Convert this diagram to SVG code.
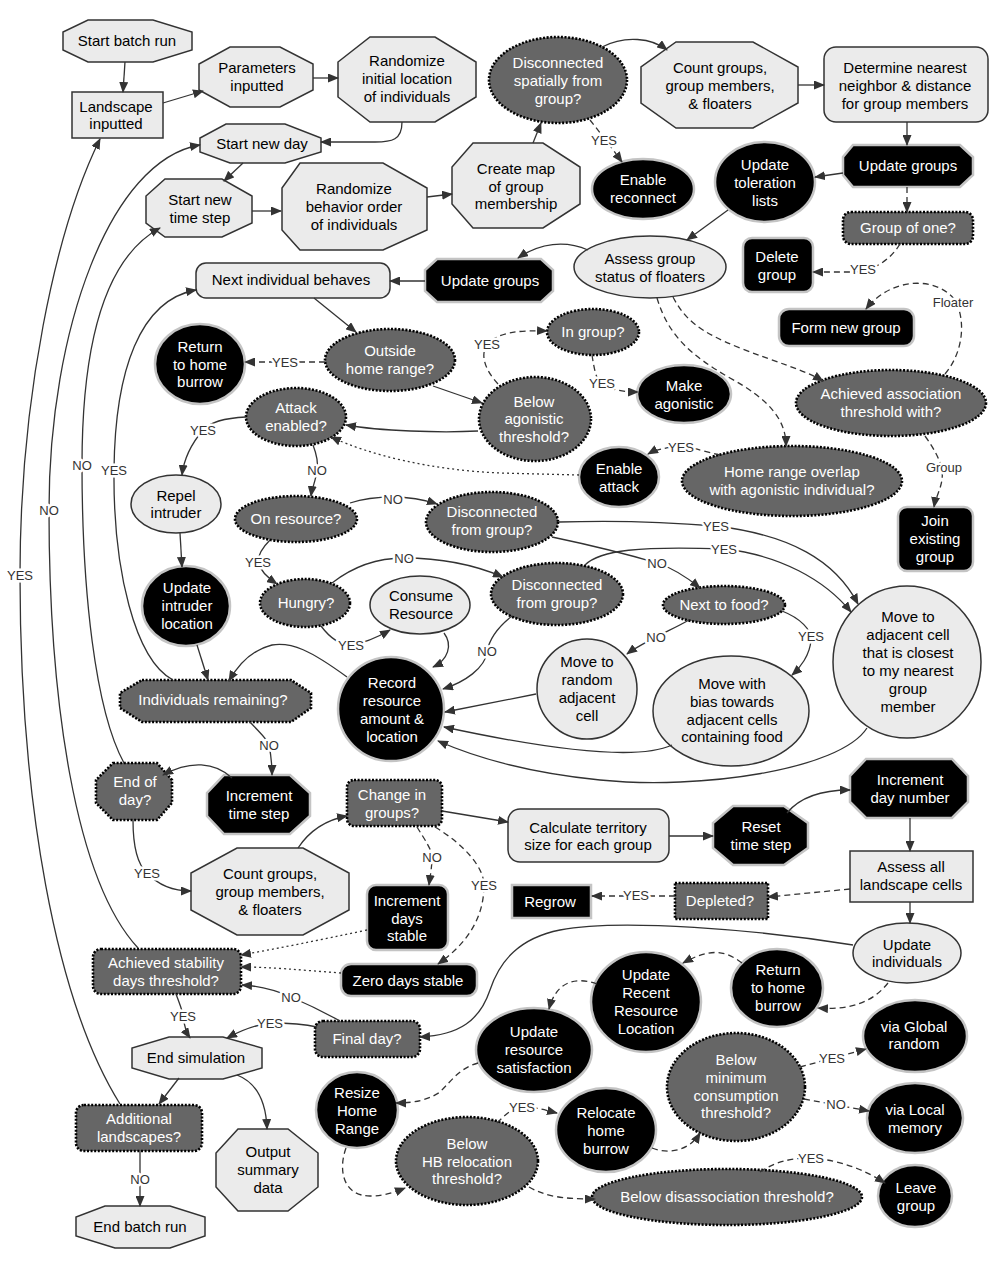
<svg xmlns="http://www.w3.org/2000/svg" width="1000" height="1269" viewBox="0 0 1000 1269">
<style>
.lt{fill:#ebebeb;stroke:#333;stroke-width:1.5}
.bk{fill:#000;stroke:#c4c4c4;stroke-width:2.5}
.dk{fill:#666;stroke:#000;stroke-width:2.6;stroke-dasharray:2 1.6}
text{font-family:"Liberation Sans",Arial,sans-serif;font-size:15px;text-anchor:middle}
.tb{fill:#000}
.tw{fill:#fff}
.c{fill:none;stroke:#333;stroke-width:1.3}
.d{stroke-dasharray:6 4}
.o{stroke-dasharray:2 3}
.l{font-size:13px;fill:#333;stroke:#fff;stroke-width:5;paint-order:stroke;stroke-linejoin:round}
</style>
<defs>
<marker id="a" markerUnits="userSpaceOnUse" markerWidth="11" markerHeight="9" refX="10" refY="4.5" orient="auto">
<path d="M0,0 L11,4.5 L0,9 z" fill="#333"/>
</marker>
</defs>
<rect width="1000" height="1269" fill="#fff"/>

<g id="nodes">
<g id="n-start-batch"><polygon class="lt" points="88,20 153,20 192,32 192,50 153,62 88,62 63,50 63,32"/><text class="tb" x="127" y="46">Start batch run</text></g>
<g id="n-landscape"><rect class="lt" x="72" y="92" width="91" height="46"/><text class="tb" x="116" y="112">Landscape</text><text class="tb" x="116" y="129">inputted</text></g>
<g id="n-params"><polygon class="lt" points="230,47 280,47 313,64 313,90 280,107 230,107 199,90 199,64"/><text class="tb" x="257" y="73">Parameters</text><text class="tb" x="257" y="91">inputted</text></g>
<g id="n-rand-init"><polygon class="lt" points="370,37 435,37 476,62 476,97 435,122 370,122 338,97 338,62"/><text class="tb" x="407" y="66">Randomize</text><text class="tb" x="407" y="84">initial location</text><text class="tb" x="407" y="102">of individuals</text></g>
<g id="n-disc-spatial"><ellipse class="dk" cx="558" cy="80" rx="69" ry="43"/><text class="tw" x="558" y="68">Disconnected</text><text class="tw" x="558" y="86">spatially from</text><text class="tw" x="558" y="104">group?</text></g>
<g id="n-count1"><polygon class="lt" points="676,42 753,42 798,67 798,103 753,128 676,128 641,103 641,67"/><text class="tb" x="720" y="73">Count groups,</text><text class="tb" x="720" y="91">group members,</text><text class="tb" x="720" y="109">&amp; floaters</text></g>
<g id="n-determine"><rect class="lt" x="824" y="47" width="164" height="75" rx="12"/><text class="tb" x="905" y="73">Determine nearest</text><text class="tb" x="905" y="91">neighbor &amp; distance</text><text class="tb" x="905" y="109">for group members</text></g>
<g id="n-start-day"><polygon class="lt" points="226,124 285,124 321,138 321,152 285,163 230,163 200,152 200,138"/><text class="tb" x="262" y="149">Start new day</text></g>
<g id="n-start-step"><polygon class="lt" points="165,179 222,179 252,196 252,223 222,237 165,237 146,223 146,196"/><text class="tb" x="200" y="205">Start new</text><text class="tb" x="200" y="223">time step</text></g>
<g id="n-rand-behav"><polygon class="lt" points="300,163 383,163 427,188 427,230 383,250 300,250 282,230 282,188"/><text class="tb" x="354" y="194">Randomize</text><text class="tb" x="354" y="212">behavior order</text><text class="tb" x="354" y="230">of individuals</text></g>
<g id="n-create-map"><polygon class="lt" points="473,143 543,143 580,167 580,204 543,228 473,228 452,204 452,167"/><text class="tb" x="516" y="174">Create map</text><text class="tb" x="516" y="192">of group</text><text class="tb" x="516" y="209">membership</text></g>
<g id="n-enable-reconnect"><ellipse class="bk" cx="643" cy="189" rx="51" ry="30"/><text class="tw" x="643" y="185">Enable</text><text class="tw" x="643" y="203">reconnect</text></g>
<g id="n-toleration"><ellipse class="bk" cx="765" cy="182" rx="50" ry="40"/><text class="tw" x="765" y="170">Update</text><text class="tw" x="765" y="188">toleration</text><text class="tw" x="765" y="206">lists</text></g>
<g id="n-update-groups-r"><polygon class="bk" points="853,145 960,145 973,157 973,175 960,187 853,187 843,175 843,157"/><text class="tw" x="908" y="171">Update groups</text></g>
<g id="n-group-of-one"><rect class="dk" x="843" y="212" width="130" height="32" rx="8"/><text class="tw" x="908" y="233">Group of one?</text></g>
<g id="n-delete-group"><rect class="bk" x="743" y="238" width="70" height="54" rx="9"/><text class="tw" x="777" y="262">Delete</text><text class="tw" x="777" y="280">group</text></g>
<g id="n-assess-floaters"><ellipse class="lt" cx="650" cy="267" rx="76" ry="31"/><text class="tb" x="650" y="264">Assess group</text><text class="tb" x="650" y="282">status of floaters</text></g>
<g id="n-update-groups-m"><polygon class="bk" points="437,259 541,259 553,270 553,291 541,302 437,302 425,291 425,270"/><text class="tw" x="490" y="286">Update groups</text></g>
<g id="n-next-indiv"><rect class="lt" x="196" y="263" width="194" height="35" rx="10"/><text class="tb" x="291" y="285">Next individual behaves</text></g>
<g id="n-form-new"><rect class="bk" x="779" y="309" width="135" height="37" rx="10"/><text class="tw" x="846" y="333">Form new group</text></g>
<g id="n-return-home1"><ellipse class="bk" cx="200" cy="364" rx="45" ry="40"/><text class="tw" x="200" y="352">Return</text><text class="tw" x="200" y="370">to home</text><text class="tw" x="200" y="387">burrow</text></g>
<g id="n-outside-range"><ellipse class="dk" cx="390" cy="360" rx="65" ry="31"/><text class="tw" x="390" y="356">Outside</text><text class="tw" x="390" y="374">home range?</text></g>
<g id="n-in-group"><ellipse class="dk" cx="593" cy="332" rx="46" ry="23"/><text class="tw" x="593" y="337">In group?</text></g>
<g id="n-make-agon"><ellipse class="bk" cx="684" cy="394" rx="47" ry="29"/><text class="tw" x="684" y="391">Make</text><text class="tw" x="684" y="409">agonistic</text></g>
<g id="n-below-agon"><ellipse class="dk" cx="535" cy="419" rx="56" ry="42"/><text class="tw" x="534" y="407">Below</text><text class="tw" x="534" y="424">agonistic</text><text class="tw" x="534" y="442">threshold?</text></g>
<g id="n-achieved-assoc"><ellipse class="dk" cx="891" cy="403" rx="95" ry="33"/><text class="tw" x="891" y="399">Achieved association</text><text class="tw" x="891" y="417">threshold with?</text></g>
<g id="n-attack-enabled"><ellipse class="dk" cx="296" cy="417" rx="50" ry="29"/><text class="tw" x="296" y="413">Attack</text><text class="tw" x="296" y="431">enabled?</text></g>
<g id="n-enable-attack"><ellipse class="bk" cx="619" cy="477" rx="40" ry="30"/><text class="tw" x="619" y="474">Enable</text><text class="tw" x="619" y="492">attack</text></g>
<g id="n-home-overlap"><ellipse class="dk" cx="792" cy="481" rx="110" ry="35"/><text class="tw" x="792" y="477">Home range overlap</text><text class="tw" x="792" y="495">with agonistic individual?</text></g>
<g id="n-repel"><ellipse class="lt" cx="176" cy="504" rx="45" ry="29"/><text class="tb" x="176" y="501">Repel</text><text class="tb" x="176" y="518">intruder</text></g>
<g id="n-on-resource"><ellipse class="dk" cx="296" cy="519" rx="61" ry="23"/><text class="tw" x="296" y="524">On resource?</text></g>
<g id="n-disc1"><ellipse class="dk" cx="492" cy="522" rx="66" ry="30"/><text class="tw" x="492" y="517">Disconnected</text><text class="tw" x="492" y="535">from group?</text></g>
<g id="n-join-existing"><rect class="bk" x="898" y="507" width="75" height="64" rx="9"/><text class="tw" x="935" y="526">Join</text><text class="tw" x="935" y="544">existing</text><text class="tw" x="935" y="562">group</text></g>
<g id="n-hungry"><ellipse class="dk" cx="305" cy="603" rx="45" ry="24"/><text class="tw" x="306" y="608">Hungry?</text></g>
<g id="n-consume"><ellipse class="lt" cx="420" cy="605" rx="50" ry="29"/><text class="tb" x="421" y="601">Consume</text><text class="tb" x="421" y="619">Resource</text></g>
<g id="n-disc2"><ellipse class="dk" cx="557" cy="594" rx="66" ry="31"/><text class="tw" x="557" y="590">Disconnected</text><text class="tw" x="557" y="608">from group?</text></g>
<g id="n-next-food"><ellipse class="dk" cx="724" cy="605" rx="61" ry="19"/><text class="tw" x="724" y="610">Next to food?</text></g>
<g id="n-move-closest"><ellipse class="lt" cx="907" cy="662" rx="74" ry="76"/><text class="tb" x="908" y="622">Move to</text><text class="tb" x="908" y="640">adjacent cell</text><text class="tb" x="908" y="658">that is closest</text><text class="tb" x="908" y="676">to my nearest</text><text class="tb" x="908" y="694">group</text><text class="tb" x="908" y="712">member</text></g>
<g id="n-indiv-remaining"><polygon class="dk" points="142,680 291,680 311,693 311,708 291,722 142,722 120,708 120,693"/><text class="tw" x="213" y="705">Individuals remaining?</text></g>
<g id="n-update-intruder"><ellipse class="bk" cx="186" cy="606" rx="44" ry="40"/><text class="tw" x="187" y="593">Update</text><text class="tw" x="187" y="611">intruder</text><text class="tw" x="187" y="629">location</text></g>
<g id="n-record"><ellipse class="bk" cx="391" cy="709" rx="53" ry="52"/><text class="tw" x="392" y="688">Record</text><text class="tw" x="392" y="706">resource</text><text class="tw" x="392" y="724">amount &amp;</text><text class="tw" x="392" y="742">location</text></g>
<g id="n-move-random"><ellipse class="lt" cx="587" cy="689" rx="50" ry="50"/><text class="tb" x="587" y="667">Move to</text><text class="tb" x="587" y="685">random</text><text class="tb" x="587" y="703">adjacent</text><text class="tb" x="587" y="721">cell</text></g>
<g id="n-move-bias"><ellipse class="lt" cx="731" cy="711" rx="78" ry="55"/><text class="tb" x="732" y="689">Move with</text><text class="tb" x="732" y="707">bias towards</text><text class="tb" x="732" y="725">adjacent cells</text><text class="tb" x="732" y="742">containing food</text></g>
<g id="n-end-of-day"><polygon class="dk" points="113,763 157,763 172,780 172,803 157,820 113,820 96,803 96,780"/><text class="tw" x="135" y="787">End of</text><text class="tw" x="135" y="805">day?</text></g>
<g id="n-inc-step"><polygon class="bk" points="224,775 290,775 310,793 310,816 290,834 224,834 207,816 207,793"/><text class="tw" x="259" y="801">Increment</text><text class="tw" x="259" y="819">time step</text></g>
<g id="n-change-groups"><rect class="dk" x="347" y="780" width="95" height="46" rx="7"/><text class="tw" x="392" y="800">Change in</text><text class="tw" x="392" y="818">groups?</text></g>
<g id="n-territory"><rect class="lt" x="508" y="809" width="161" height="53" rx="12"/><text class="tb" x="588" y="833">Calculate territory</text><text class="tb" x="588" y="850">size for each group</text></g>
<g id="n-reset-step"><polygon class="bk" points="733,806 784,806 808,823 808,848 784,865 733,865 713,848 713,823"/><text class="tw" x="761" y="832">Reset</text><text class="tw" x="761" y="850">time step</text></g>
<g id="n-inc-day"><polygon class="bk" points="866,759 952,759 968,776 968,802 952,818 866,818 850,802 850,776"/><text class="tw" x="910" y="785">Increment</text><text class="tw" x="910" y="803">day number</text></g>
<g id="n-assess-cells"><rect class="lt" x="850" y="851" width="123" height="51"/><text class="tb" x="911" y="872">Assess all</text><text class="tb" x="911" y="890">landscape cells</text></g>
<g id="n-count2"><polygon class="lt" points="237,848 303,848 349,873 349,910 303,935 237,935 191,910 191,873"/><text class="tb" x="270" y="879">Count groups,</text><text class="tb" x="270" y="897">group members,</text><text class="tb" x="270" y="915">&amp; floaters</text></g>
<g id="n-inc-days-stable"><rect class="bk" x="367" y="885" width="81" height="65" rx="9"/><text class="tw" x="407" y="906">Increment</text><text class="tw" x="407" y="924">days</text><text class="tw" x="407" y="941">stable</text></g>
<g id="n-regrow"><rect class="bk" x="512" y="885" width="79" height="33"/><text class="tw" x="550" y="907">Regrow</text></g>
<g id="n-depleted"><rect class="dk" x="675" y="883" width="93" height="36"/><text class="tw" x="720" y="906">Depleted?</text></g>
<g id="n-achieved-stab"><rect class="dk" x="93" y="949" width="148" height="45" rx="8"/><text class="tw" x="166" y="968">Achieved stability</text><text class="tw" x="166" y="986">days threshold?</text></g>
<g id="n-zero-days"><rect class="bk" x="341" y="964" width="136" height="32" rx="10"/><text class="tw" x="408" y="986">Zero days stable</text></g>
<g id="n-update-indiv"><ellipse class="lt" cx="907" cy="953" rx="54" ry="30"/><text class="tb" x="907" y="950">Update</text><text class="tb" x="907" y="967">individuals</text></g>
<g id="n-return-home2"><ellipse class="bk" cx="777" cy="988" rx="46" ry="39"/><text class="tw" x="778" y="975">Return</text><text class="tw" x="778" y="993">to home</text><text class="tw" x="778" y="1011">burrow</text></g>
<g id="n-update-recent"><ellipse class="bk" cx="646" cy="1002" rx="55" ry="50"/><text class="tw" x="646" y="980">Update</text><text class="tw" x="646" y="998">Recent</text><text class="tw" x="646" y="1016">Resource</text><text class="tw" x="646" y="1034">Location</text></g>
<g id="n-final-day"><rect class="dk" x="315" y="1021" width="105" height="36" rx="8"/><text class="tw" x="367" y="1044">Final day?</text></g>
<g id="n-update-satisf"><ellipse class="bk" cx="534" cy="1050" rx="58" ry="42"/><text class="tw" x="534" y="1037">Update</text><text class="tw" x="534" y="1055">resource</text><text class="tw" x="534" y="1073">satisfaction</text></g>
<g id="n-end-sim"><polygon class="lt" points="169,1037 223,1037 262,1048 262,1068 223,1079 169,1079 132,1068 132,1048"/><text class="tb" x="196" y="1063">End simulation</text></g>
<g id="n-global"><ellipse class="bk" cx="915" cy="1036" rx="52" ry="36"/><text class="tw" x="914" y="1032">via Global</text><text class="tw" x="914" y="1049">random</text></g>
<g id="n-below-min"><ellipse class="dk" cx="736" cy="1087" rx="69" ry="54"/><text class="tw" x="736" y="1065">Below</text><text class="tw" x="736" y="1083">minimum</text><text class="tw" x="736" y="1101">consumption</text><text class="tw" x="736" y="1118">threshold?</text></g>
<g id="n-resize"><ellipse class="bk" cx="357" cy="1110" rx="41" ry="38"/><text class="tw" x="357" y="1098">Resize</text><text class="tw" x="357" y="1116">Home</text><text class="tw" x="357" y="1134">Range</text></g>
<g id="n-relocate"><ellipse class="bk" cx="606" cy="1130" rx="50" ry="42"/><text class="tw" x="606" y="1118">Relocate</text><text class="tw" x="606" y="1136">home</text><text class="tw" x="606" y="1154">burrow</text></g>
<g id="n-local"><ellipse class="bk" cx="915" cy="1118" rx="48" ry="35"/><text class="tw" x="915" y="1115">via Local</text><text class="tw" x="915" y="1133">memory</text></g>
<g id="n-additional"><rect class="dk" x="76" y="1105" width="126" height="46" rx="8"/><text class="tw" x="139" y="1124">Additional</text><text class="tw" x="139" y="1142">landscapes?</text></g>
<g id="n-output"><polygon class="lt" points="238,1129 288,1129 318,1153 318,1187 288,1211 238,1211 216,1187 216,1153"/><text class="tb" x="268" y="1157">Output</text><text class="tb" x="268" y="1175">summary</text><text class="tb" x="268" y="1193">data</text></g>
<g id="n-below-hb"><ellipse class="dk" cx="467" cy="1161" rx="71" ry="44"/><text class="tw" x="467" y="1149">Below</text><text class="tw" x="467" y="1167">HB relocation</text><text class="tw" x="467" y="1184">threshold?</text></g>
<g id="n-below-disassoc"><ellipse class="dk" cx="727" cy="1197" rx="135" ry="28"/><text class="tw" x="727" y="1202">Below disassociation threshold?</text></g>
<g id="n-leave"><ellipse class="bk" cx="915" cy="1196" rx="37" ry="31"/><text class="tw" x="916" y="1193">Leave</text><text class="tw" x="916" y="1211">group</text></g>
<g id="n-end-batch"><polygon class="lt" points="105,1206 170,1206 205,1217 205,1236 170,1248 115,1248 76,1236 76,1217"/><text class="tb" x="140" y="1232">End batch run</text></g>
</g>

<g id="connectors">
<g marker-end="url(#a)">
<path class="c" d="M125,62 L123,92"/>
<path class="c" d="M163,103 L203,91"/>
<path class="c" d="M313,78 L338,78"/>
<path class="c" d="M402,122 C402,140 392,142 375,142 L321,142"/>
<path class="c" d="M243,163 L224,181"/>
<path class="c" d="M252,211 L281,211"/>
<path class="c" d="M427,197 L452,194"/>
<path class="c" d="M533,143 L541,123"/>
<path class="c" d="M602,47 C625,35 652,38 667,50"/>
<path class="c d" d="M590,120 Q606,140 622,162"/>
<path class="c" d="M798,85 L824,85"/>
<path class="c" d="M907,122 L907,145"/>
<path class="c" d="M843,173 L815,177"/>
<path class="c d" d="M907,187 L907,212"/>
<path class="c d" d="M900,244 C890,260 875,270 855,272 L813,272"/>
<path class="c" d="M728,210 L687,240"/>
<path class="c" d="M588,250 C565,240 540,243 518,258"/>
<path class="c" d="M425,281 L390,281"/>
<path class="c d" d="M673,297 C685,320 700,332 740,348 C775,362 805,370 823,381"/>
<path class="c d" d="M657,298 C668,335 690,355 730,378 C770,400 786,420 786,446"/>
<path class="c d" d="M945,374 C965,350 965,318 955,300 C935,275 890,278 866,309"/>
<path class="c d" d="M925,436 C935,450 940,460 942,470 C944,485 936,495 934,507"/>
<path class="c d" d="M720,455 C700,450 690,447 681,447 C665,447 655,450 648,454"/>
<path class="c o" d="M579,475 L500,473 C430,470 370,455 331,437"/>
<path class="c" d="M314,298 L356,332"/>
<path class="c d" d="M325,362 L245,362"/>
<path class="c" d="M433,386 L482,403"/>
<path class="c d" d="M498,384 C485,370 480,355 487,345 C497,332 520,330 547,331"/>
<path class="c d" d="M592,355 C594,368 596,378 600,383 C610,390 625,392 638,392"/>
<path class="c" d="M478,431 C440,433 380,431 346,425"/>
<path class="c" d="M246,417 C225,418 210,422 203,430 C192,443 184,458 182,475"/>
<path class="c" d="M313,445 C318,458 318,465 317,470 C316,480 312,488 311,496"/>
<path class="c" d="M180,533 L182,567"/>
<path class="c" d="M197,645 L208,680"/>
<path class="c" d="M350,503 C365,498 380,497 393,497 C410,497 425,500 437,504"/>
<path class="c" d="M270,540 C262,548 258,555 258,562 C260,570 268,578 277,584"/>
<path class="c" d="M332,583 C355,565 380,558 404,558 C440,558 475,565 503,577"/>
<path class="c" d="M321,626 C330,638 340,645 351,645 C365,643 378,637 390,630"/>
<path class="c" d="M444,633 C453,645 448,660 433,667"/>
<path class="c" d="M512,616 C498,627 489,640 487,652 C485,668 465,682 443,689"/>
<path class="c" d="M559,522 C620,520 680,523 716,526 C790,535 835,560 858,604"/>
<path class="c" d="M552,537 C590,545 630,555 657,563 C672,568 688,578 700,588"/>
<path class="c" d="M585,565 C600,550 640,546 724,549 C780,555 825,580 851,612"/>
<path class="c" d="M689,620 C675,628 665,632 656,637 C645,643 635,648 627,654"/>
<path class="c" d="M782,611 C800,618 812,630 811,640 C810,655 800,668 792,675"/>
<path class="c" d="M536,694 L445,712"/>
<path class="c" d="M672,745 C640,760 560,752 444,727"/>
<path class="c" d="M867,728 C840,770 700,790 600,780 C520,772 470,755 438,741"/>
<path class="c" d="M347,677 C310,650 292,642 272,645 C252,650 238,665 229,681"/>
<path class="c" d="M173,680 C135,660 113,570 114,470 C115,370 140,300 196,290"/>
<path class="c" d="M124,763 C95,710 82,590 82,465 C82,330 110,255 160,228"/>
<path class="c" d="M138,948 C75,880 49,700 49,510 C49,330 110,160 200,145"/>
<path class="c" d="M120,1104 C55,1000 20,800 20,575 C20,400 55,230 100,139"/>
<path class="c" d="M250,722 C262,735 268,740 269,745 C271,755 272,765 272,775"/>
<path class="c" d="M232,778 C215,762 190,760 163,775"/>
<path class="c" d="M133,820 C133,850 138,865 147,873 C160,887 175,891 191,891"/>
<path class="c" d="M298,848 C310,830 325,820 347,816"/>
<path class="c" d="M442,811 L508,822"/>
<path class="c d" d="M417,827 C425,840 432,850 432,857 C432,867 430,877 429,885"/>
<path class="c d" d="M435,827 C465,845 484,868 484,885 C484,920 465,945 438,964"/>
<path class="c o" d="M367,930 C320,940 280,948 241,955"/>
<path class="c o" d="M341,973 C300,970 270,967 241,967"/>
<path class="c" d="M669,836 L713,836"/>
<path class="c" d="M787,813 C800,797 820,790 850,790"/>
<path class="c" d="M910,818 L910,851"/>
<path class="c d" d="M850,889 L768,897"/>
<path class="c d" d="M675,896 L592,896"/>
<path class="c" d="M910,902 L910,923"/>
<path class="c" d="M853,945 C760,930 620,918 560,930 C520,938 500,960 490,990 C480,1020 460,1035 420,1037"/>
<path class="c" d="M340,1021 C320,1010 305,1003 291,997 C275,990 260,986 242,985"/>
<path class="c" d="M317,1027 C300,1023 285,1023 270,1023 C255,1025 240,1031 227,1038"/>
<path class="c" d="M176,994 C180,1005 183,1012 183,1016 C184,1025 186,1032 190,1038"/>
<path class="c" d="M179,1078 L159,1104"/>
<path class="c" d="M237,1075 C255,1082 266,1100 267,1129"/>
<path class="c" d="M140,1151 L140,1206"/>
<path class="c d" d="M888,983 C872,1003 850,1010 818,1008"/>
<path class="c d" d="M742,963 C725,950 710,948 683,963"/>
<path class="c d" d="M597,984 C572,975 555,985 549,1009"/>
<path class="c d" d="M478,1063 C460,1068 452,1080 440,1092 C428,1100 415,1103 396,1103"/>
<path class="c d" d="M346,1148 C338,1170 343,1196 370,1196 C385,1196 395,1192 405,1188"/>
<path class="c d" d="M497,1123 C505,1115 512,1108 522,1107 C535,1107 545,1110 557,1113"/>
<path class="c d" d="M652,1148 C670,1155 690,1150 700,1133"/>
<path class="c d" d="M800,1067 L866,1049"/>
<path class="c d" d="M804,1099 L869,1111"/>
<path class="c d" d="M529,1187 C545,1196 560,1199 595,1199"/>
<path class="c d" d="M760,1172 C775,1162 790,1158 811,1158 C840,1160 865,1170 885,1183"/>
</g>
<g id="labels">
<text class="l" x="604" y="145">YES</text>
<text class="l" x="863" y="274">YES</text>
<text class="l" x="953" y="307">Floater</text>
<text class="l" x="944" y="472">Group</text>
<text class="l" x="681" y="452">YES</text>
<text class="l" x="285" y="367">YES</text>
<text class="l" x="487" y="349">YES</text>
<text class="l" x="602" y="388">YES</text>
<text class="l" x="203" y="435">YES</text>
<text class="l" x="317" y="475">NO</text>
<text class="l" x="393" y="504">NO</text>
<text class="l" x="258" y="567">YES</text>
<text class="l" x="404" y="563">NO</text>
<text class="l" x="351" y="650">YES</text>
<text class="l" x="487" y="656">NO</text>
<text class="l" x="716" y="531">YES</text>
<text class="l" x="657" y="568">NO</text>
<text class="l" x="724" y="554">YES</text>
<text class="l" x="656" y="642">NO</text>
<text class="l" x="811" y="641">YES</text>
<text class="l" x="114" y="475">YES</text>
<text class="l" x="82" y="470">NO</text>
<text class="l" x="49" y="515">NO</text>
<text class="l" x="20" y="580">YES</text>
<text class="l" x="269" y="750">NO</text>
<text class="l" x="147" y="878">YES</text>
<text class="l" x="432" y="862">NO</text>
<text class="l" x="484" y="890">YES</text>
<text class="l" x="636" y="900">YES</text>
<text class="l" x="291" y="1002">NO</text>
<text class="l" x="270" y="1028">YES</text>
<text class="l" x="183" y="1021">YES</text>
<text class="l" x="140" y="1184">NO</text>
<text class="l" x="522" y="1112">YES</text>
<text class="l" x="832" y="1063">YES</text>
<text class="l" x="836" y="1109">NO</text>
<text class="l" x="811" y="1163">YES</text>
</g>
</g>
</svg>
